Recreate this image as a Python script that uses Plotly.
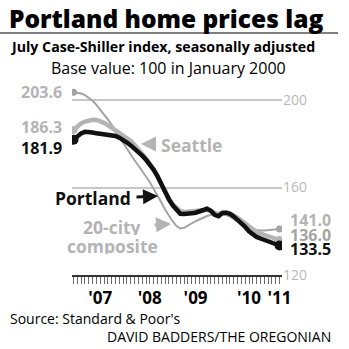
import plotly.graph_objects as go

# ---- data (month index 0 = Jan 2007 ... 54 = Jul 2011) ----
months = list(range(55))
portland = [181.9, 183.5, 184.8, 185.5, 185.6, 185.2, 184.8, 184.5, 184.3, 184.2,
            184.0, 183.6, 182.8, 181.9, 180.6, 179.3, 177.9, 176.4, 174.6, 172.7,
            170.6, 168.2, 165.3, 161.5, 157.5, 154.6, 151.9, 149.6, 148.0, 147.9,
            148.3, 148.2, 148.5, 149.1, 149.8, 150.3, 149.4, 147.5, 146.9, 148.4,
            148.5, 148.0, 146.8, 145.4, 143.8, 142.0, 140.0, 138.6, 137.4, 136.7,
            136.0, 135.5, 135.0, 134.2, 133.5]
seattle = [186.3, 188.0, 189.4, 190.2, 190.7, 191.0, 190.9, 190.4, 189.6, 188.6,
           187.4, 186.1, 184.9, 183.9, 182.8, 181.3, 179.5, 177.6, 175.5, 173.4,
           170.8, 168.2, 165.0, 161.4, 158.0, 155.0, 152.4, 150.5, 149.2, 148.8,
           148.9, 148.8, 148.9, 149.3, 149.6, 149.8, 149.2, 148.2, 147.8, 148.4,
           148.6, 148.2, 147.3, 146.2, 144.9, 143.5, 142.0, 140.8, 139.7, 138.9,
           138.2, 137.6, 137.0, 136.5, 136.0]
composite = [203.6, 203.3, 203.0, 202.3, 201.2, 199.7, 197.8, 195.8, 193.4, 191.2,
             188.9, 186.2, 183.1, 180.3, 177.5, 174.8, 172.5, 170.1, 167.6, 165.2,
             162.4, 159.5, 156.6, 153.3, 150.0, 147.1, 144.5, 142.4, 141.3, 141.6,
             142.7, 143.8, 144.6, 145.4, 146.3, 147.0, 147.5, 147.8, 147.9, 147.6,
             147.4, 146.7, 145.5, 144.2, 143.0, 141.9, 141.0, 140.6, 140.4, 140.3,
             140.4, 140.6, 140.7, 140.9, 141.0]
# year labels sit under these months of the ruler
year_labels = {7: "'07", 20: "'08", 32: "'09", 46: "'10", 54: "'11"}
y_ticks = [120, 160, 200]

BLACK = "#111111"
LGRAY = "#b4b4b4"
MGRAY = "#a4a4a4"
FONT = "Open Sans"

W, H = 349, 349
L, R, T, B = 72, 67, 87, 74
PW, PH = W - L - R, H - T - B


def P(xpx, ypx):
    return (xpx - L) / PW, (H - B - ypx) / PH


fig = go.Figure()
series = [
    ("20-city composite", composite, MGRAY, 2, 7),
    ("Seattle", seattle, LGRAY, 4.5, 8),
    ("Portland", portland, BLACK, 4.5, 10),
]
for name, vals, col, w, ms in series:
    fig.add_trace(go.Scatter(x=months, y=vals, mode="lines", line=dict(color=col, width=w),
                             name=name, showlegend=False, hoverinfo="skip"))
    fig.add_trace(go.Scatter(x=[months[0], months[-1]], y=[vals[0], vals[-1]], mode="markers",
                             marker=dict(color=col, size=ms), showlegend=False, hoverinfo="skip"))

ann = []


def text(xpx, ypx, s, size, color, weight="bold", xanchor="left", height=None):
    px, py = P(xpx, ypx)
    a = dict(x=px, y=py, xref="paper", yref="paper", text=s, showarrow=False,
             xanchor=xanchor, yanchor="middle",
             font=dict(family=FONT, size=size, color=color, weight=weight))
    if height:
        a["height"] = height
    ann.append(a)


def vlabel(xm, v, color, yshift, xanchor, xshift, weight="bold"):
    ann.append(dict(x=xm, y=v, xref="x", yref="y", text=f"{v:.1f}", showarrow=False,
                    xanchor=xanchor, yanchor="middle", xshift=xshift, yshift=yshift,
                    height=14,
                    font=dict(family=FONT, size=16, color=color, weight=weight)))


# titles
text(7, 18, "Portland home prices lag", 24.5, "#000000", weight=800)
text(8, 47, "July Case-Shiller index, seasonally adjusted", 14.2, "#000000")
text(168, 68, "Base value: 100 in January 2000", 16, "#000000", weight="normal", xanchor="center")
# footer
text(8, 318, "Source: Standard &amp; Poor's", 14, "#000000", weight="normal")
text(333, 336, "DAVID BADDERS/THE OREGONIAN", 14, "#000000", weight="normal", xanchor="right")

# start / end value labels
vlabel(0, composite[0], LGRAY, 0, "right", -10)
vlabel(0, seattle[0], LGRAY, 3, "right", -10)
vlabel(0, portland[0], BLACK, -8, "right", -10)
vlabel(54, composite[-1], LGRAY, 9, "left", 8)
vlabel(54, seattle[-1], MGRAY, 5, "left", 8)
vlabel(54, portland[-1], BLACK, -4, "left", 8)

# series labels
text(159, 145, "Seattle", 17.5, LGRAY)
text(133, 198, "Portland", 17.5, BLACK, xanchor="right")
text(112, 226, "20-city", 17.5, LGRAY, xanchor="center", height=17)
text(112, 245, "composite", 17.5, LGRAY, xanchor="center", height=17)


def arrow(tip, tail, color, width):
    tx, ty = P(*tip)
    ann.append(dict(x=tx, y=ty, xref="paper", yref="paper", text="", showarrow=True,
                    ax=tail[0] - tip[0], ay=tail[1] - tip[1], axref="pixel", ayref="pixel",
                    arrowhead=2, arrowsize=1, arrowwidth=width, arrowcolor=color))


arrow((141, 144), (154, 144), LGRAY, 3)
arrow((158, 196), (135, 197), BLACK, 3)
arrow((171, 224), (153, 225), LGRAY, 3)

rx0, ry = P(0, 33)
rx1, _ = P(338, 33)
shapes = [dict(type="line", xref="paper", yref="paper", x0=rx0, x1=rx1, y0=ry, y1=ry,
               line=dict(color="#000000", width=1.2))]

xr = [-0.4, 54.65]
fig.update_layout(
    template="none",
    width=W, height=H, autosize=False,
    margin=dict(l=L, r=R, t=T, b=B),
    paper_bgcolor="white", plot_bgcolor="white",
    annotations=ann, shapes=shapes,
    xaxis=dict(range=xr, tickmode="array", tickvals=months,
               ticktext=[year_labels.get(m, "") for m in months],
               ticks="outside", ticklen=7, tickwidth=1.3, tickcolor="#6a6a6a",
               showgrid=False, zeroline=False, mirror=False, layer="above traces",
               showline=True, linecolor="#333333", linewidth=1.5,
               tickfont=dict(family=FONT, size=17, color="#000000", weight="bold")),
    yaxis=dict(range=[120, 206], side="right", tickvals=y_ticks, showgrid=True,
               gridcolor="#c8c8c8", gridwidth=1.5, zeroline=False, ticks="",
               showline=False,
               tickfont=dict(family=FONT, size=14, color="#b8b8b8")),
)

fig.write_html("out.html")
